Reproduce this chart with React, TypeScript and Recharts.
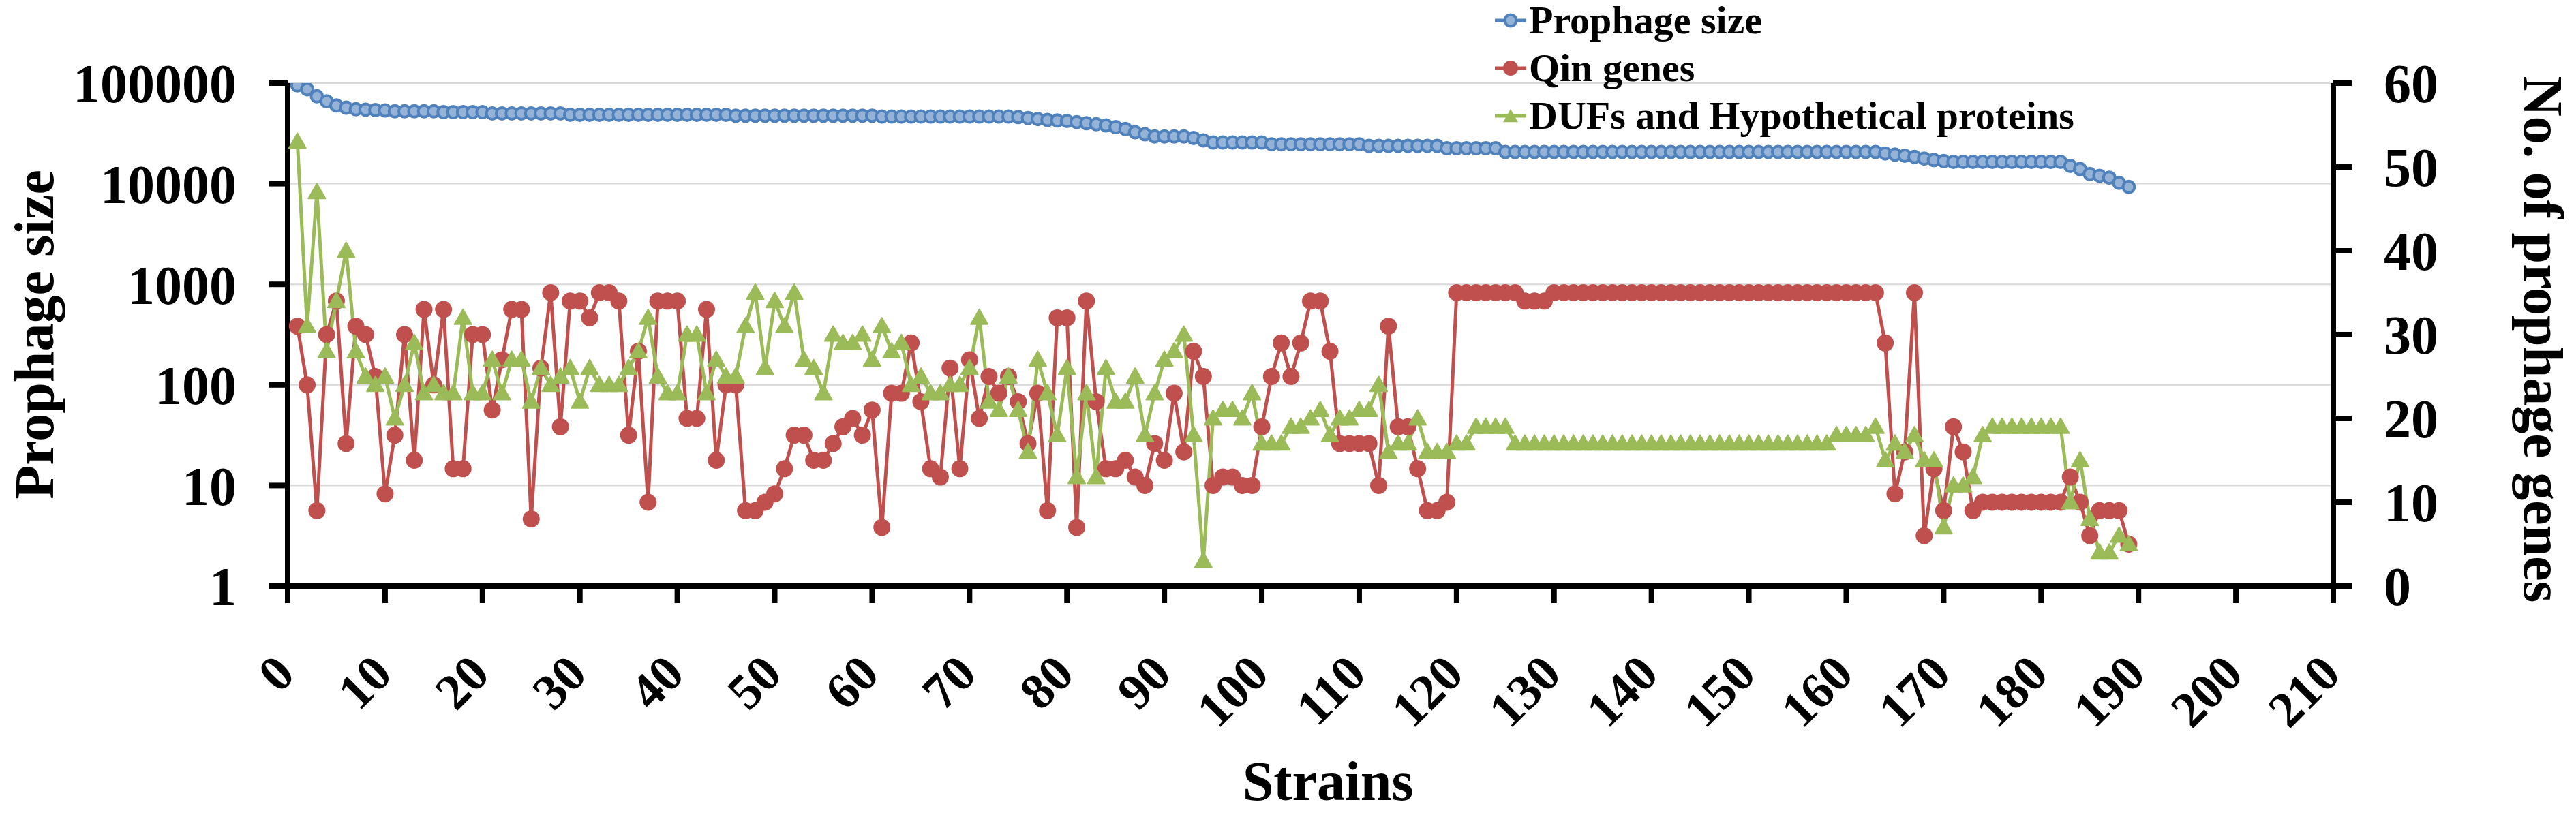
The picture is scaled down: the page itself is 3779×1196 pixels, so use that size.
import React from "react";
import { LineChart, Line, XAxis, YAxis, CartesianGrid } from "recharts";

const FONT = "'Liberation Serif', 'Times New Roman', serif";

// strain index on the x axis (1..189)
const strains = Array.from({ length: 189 }, (_, i) => i + 1);

// Prophage size (left, log axis)
const prophageSize = [
  95000, 87000, 74000, 66000, 60000, 57000, 55000, 54500, 54000, 53500,
  52500, 52500, 52500, 52500, 52500, 51500, 51500, 51500, 51500, 51500,
  50000, 50000, 50000, 50000, 50000, 50000, 50000, 50000, 48500, 48500,
  48500, 48500, 48500, 48500, 48500, 48500, 48500, 48500, 48500, 48500,
  48500, 48500, 48500, 48500, 48500, 47500, 47500, 47500, 47500, 47500,
  47500, 47500, 47500, 47500, 47500, 47500, 47500, 47500, 47500, 47500,
  46500, 46500, 46500, 46500, 46500, 46500, 46500, 46500, 46500, 46500,
  46500, 46500, 46500, 46500, 46000, 45000, 44000, 43000, 42500, 42000,
  41000, 40000, 39000, 38000, 36500, 35000, 32500, 31000, 29500, 29500,
  29500, 29500, 28500, 27000, 25700, 25700, 25700, 25700, 25700, 25700,
  24700, 24700, 24700, 24700, 24700, 24700, 24700, 24700, 24700, 24700,
  23800, 23800, 23800, 23800, 23800, 23800, 23800, 23800, 22500, 22500,
  22500, 22500, 22500, 22500, 20700, 20700, 20700, 20700, 20700, 20700,
  20700, 20700, 20700, 20700, 20700, 20700, 20700, 20700, 20700, 20700,
  20700, 20700, 20700, 20700, 20700, 20700, 20700, 20700, 20700, 20700,
  20700, 20700, 20700, 20700, 20700, 20700, 20700, 20700, 20700, 20700,
  20700, 20700, 20700, 20000, 19500, 19000, 18500, 17800, 17200, 16800,
  16500, 16500, 16500, 16500, 16500, 16500, 16500, 16500, 16500, 16500,
  16500, 16500, 15000, 14000, 12500, 12000, 11500, 10200, 9300,
];

// Qin genes (right axis)
const qinGenes = [
  31, 24, 9, 30, 34, 17, 31, 30, 25, 11,
  18, 30, 15, 33, 24, 33, 14, 14, 30, 30,
  21, 27, 33, 33, 8, 26, 35, 19, 34, 34,
  32, 35, 35, 34, 18, 28, 10, 34, 34, 34,
  20, 20, 33, 15, 24, 24, 9, 9, 10, 11,
  14, 18, 18, 15, 15, 17, 19, 20, 18, 21,
  7, 23, 23, 29, 22, 14, 13, 26, 14, 27,
  20, 25, 23, 25, 22, 17, 23, 9, 32, 32,
  7, 34, 22, 14, 14, 15, 13, 12, 17, 15,
  23, 16, 28, 25, 12, 13, 13, 12, 12, 19,
  25, 29, 25, 29, 34, 34, 28, 17, 17, 17,
  17, 12, 31, 19, 19, 14, 9, 9, 10, 35,
  35, 35, 35, 35, 35, 35, 34, 34, 34, 35,
  35, 35, 35, 35, 35, 35, 35, 35, 35, 35,
  35, 35, 35, 35, 35, 35, 35, 35, 35, 35,
  35, 35, 35, 35, 35, 35, 35, 35, 35, 35,
  35, 35, 35, 29, 11, 16, 35, 6, 14, 9,
  19, 16, 9, 10, 10, 10, 10, 10, 10, 10,
  10, 10, 13, 10, 6, 9, 9, 9, 5,
];

// DUFs and hypothetical proteins (right axis)
const dufGenes = [
  53, 31, 47, 28, 34, 40, 28, 25, 24, 25,
  20, 24, 29, 23, 24, 23, 23, 32, 23, 23,
  27, 23, 27, 27, 22, 26, 24, 25, 26, 22,
  26, 24, 24, 24, 26, 28, 32, 25, 23, 23,
  30, 30, 23, 27, 25, 25, 31, 35, 26, 34,
  31, 35, 27, 26, 23, 30, 29, 29, 30, 27,
  31, 28, 29, 24, 25, 23, 23, 24, 24, 26,
  32, 22, 21, 25, 21, 16, 27, 23, 18, 26,
  13, 23, 13, 26, 22, 22, 25, 18, 23, 27,
  28, 30, 18, 3, 20, 21, 21, 20, 23, 17,
  17, 17, 19, 19, 20, 21, 18, 20, 20, 21,
  21, 24, 16, 17, 17, 20, 16, 16, 16, 17,
  17, 19, 19, 19, 19, 17, 17, 17, 17, 17,
  17, 17, 17, 17, 17, 17, 17, 17, 17, 17,
  17, 17, 17, 17, 17, 17, 17, 17, 17, 17,
  17, 17, 17, 17, 17, 17, 17, 17, 18, 18,
  18, 18, 19, 15, 17, 16, 18, 15, 15, 7,
  12, 12, 13, 18, 19, 19, 19, 19, 19, 19,
  19, 19, 10, 15, 8, 4, 4, 6, 5,
];

const xTicks = [0, 10, 20, 30, 40, 50, 60, 70, 80, 90, 100, 110, 120, 130, 140, 150, 160, 170, 180, 190, 200, 210];
const sizeTicks = [1, 10, 100, 1000, 10000, 100000];
const geneTicks = [0, 10, 20, 30, 40, 50, 60];

const BLUE = "#4F81BD";
const BLUE_FILL = "#95B3D7";
const RED = "#C0504D";
const GREEN = "#9BBB59";

const data = strains.map((s, i) => ({
  strain: s,
  size: prophageSize[i],
  qin: qinGenes[i],
  duf: dufGenes[i],
}));

const tickStyle = { fill: "#000", fontSize: 80, fontWeight: 700, fontFamily: FONT };

const triangle = (cx: number, cy: number, s: number) =>
  `${cx},${cy - s} ${cx - s},${cy + s * 0.75} ${cx + s},${cy + s * 0.75}`;

const BlueDot = (p: any) =>
  p.cx == null ? null : (
    <circle key={`b${p.index}`} cx={p.cx} cy={p.cy} r={8.5} fill={BLUE_FILL} stroke={BLUE} strokeWidth={4} />
  );

const RedDot = (p: any) =>
  p.cx == null ? null : <circle key={`r${p.index}`} cx={p.cx} cy={p.cy} r={12.5} fill={RED} />;

const GreenDot = (p: any) =>
  p.cx == null ? null : (
    <polygon key={`g${p.index}`} points={triangle(p.cx, p.cy, 12.5)} fill={GREEN} stroke={GREEN} strokeWidth={2} strokeLinejoin="round" />
  );

// rotated strain labels
const XTick = (p: any) => {
  const ax = p.x - 22;
  const ay = p.y + 72;
  return (
    <text
      x={ax}
      y={ay}
      dy="0.68em"
      textAnchor="end"
      transform={`rotate(-45 ${ax} ${ay})`}
      fill="#000"
      fontSize={74}
      fontWeight={700}
      fontFamily={FONT}
    >
      {p.payload.value}
    </text>
  );
};

const titleProps = { fill: "#000", fontSize: 82, fontWeight: 700, fontFamily: FONT, textAnchor: "middle" as const };

const LeftTitle = () => (
  <text x={78} y={491} transform="rotate(-90 78 491)" {...titleProps}>
    Prophage size
  </text>
);

const RightTitle = () => (
  <text x={3703} y={498} transform="rotate(90 3703 498)" {...titleProps}>
    No. of prophage genes
  </text>
);

const BottomTitle = () => (
  <text x={1948} y={1174} {...titleProps}>
    Strains
  </text>
);

const legendItems = [
  { name: "Prophage size", color: BLUE, kind: "ring" },
  { name: "Qin genes", color: RED, kind: "dot" },
  { name: "DUFs and Hypothetical proteins", color: GREEN, kind: "tri" },
];

const LegendIcon = ({ color, kind }: { color: string; kind: string }) => (
  <svg width={46} height={30} style={{ flex: "none" }}>
    <line x1={0} y1={15} x2={46} y2={15} stroke={color} strokeWidth={5} />
    {kind === "ring" && <circle cx={23} cy={15} r={8.5} fill={BLUE_FILL} stroke={color} strokeWidth={4} />}
    {kind === "dot" && <circle cx={23} cy={15} r={11} fill={color} />}
    {kind === "tri" && <polygon points={triangle(23, 16, 11)} fill={color} />}
  </svg>
);

export default function App() {
  return (
    <div style={{ position: "absolute", left: 0, top: 0, width: 3779, height: 1196, background: "#fff" }}>
      <LineChart
        width={3779}
        height={1196}
        data={data}
        margin={{ top: 122, right: 156, bottom: 136, left: 122 }}
      >
        <CartesianGrid yAxisId="size" vertical={false} stroke="#d9d9d9" strokeWidth={2} />
        <XAxis
          dataKey="strain"
          type="number"
          domain={[0, 210]}
          ticks={xTicks}
          interval={0}
          allowDataOverflow
          height={200}
          stroke="#000"
          axisLine={{ stroke: "#000", strokeWidth: 8 }}
          tickLine={{ stroke: "#000", strokeWidth: 8 }}
          tickSize={25}
          tickMargin={0}
          tick={XTick}
          label={BottomTitle}
        />
        <YAxis
          yAxisId="size"
          scale="log"
          domain={[1, 100000]}
          ticks={sizeTicks}
          interval={0}
          allowDataOverflow
          width={300}
          stroke="#000"
          axisLine={{ stroke: "#000", strokeWidth: 8 }}
          tickLine={{ stroke: "#000", strokeWidth: 8 }}
          tickSize={27}
          tickMargin={48}
          tick={tickStyle}
          label={LeftTitle}
        />
        <YAxis
          yAxisId="genes"
          orientation="right"
          domain={[0, 60]}
          ticks={geneTicks}
          interval={0}
          allowDataOverflow
          width={200}
          stroke="#000"
          axisLine={{ stroke: "#000", strokeWidth: 8 }}
          tickLine={{ stroke: "#000", strokeWidth: 8 }}
          tickSize={27}
          tickMargin={47}
          tick={tickStyle}
          label={RightTitle}
        />
        <Line
          yAxisId="size"
          dataKey="size"
          type="linear"
          stroke={BLUE}
          strokeWidth={5}
          dot={BlueDot}
          activeDot={false}
          isAnimationActive={false}
        />
        <Line
          yAxisId="genes"
          dataKey="qin"
          type="linear"
          stroke={RED}
          strokeWidth={5}
          strokeLinejoin="round"
          dot={RedDot}
          activeDot={false}
          isAnimationActive={false}
        />
        <Line
          yAxisId="genes"
          dataKey="duf"
          type="linear"
          stroke={GREEN}
          strokeWidth={5}
          strokeLinejoin="round"
          dot={GreenDot}
          activeDot={false}
          isAnimationActive={false}
        />
      </LineChart>

      {/* legend */}
      <div style={{ position: "absolute", left: 2193, top: -5 }}>
        {legendItems.map((item) => (
          <div key={item.name} style={{ display: "flex", alignItems: "center", height: 70 }}>
            <LegendIcon color={item.color} kind={item.kind} />
            <span
              style={{
                marginLeft: 4,
                fontFamily: FONT,
                fontWeight: 700,
                fontSize: 58,
                lineHeight: "70px",
                color: "#000",
                whiteSpace: "nowrap",
              }}
            >
              {item.name}
            </span>
          </div>
        ))}
      </div>
    </div>
  );
}
